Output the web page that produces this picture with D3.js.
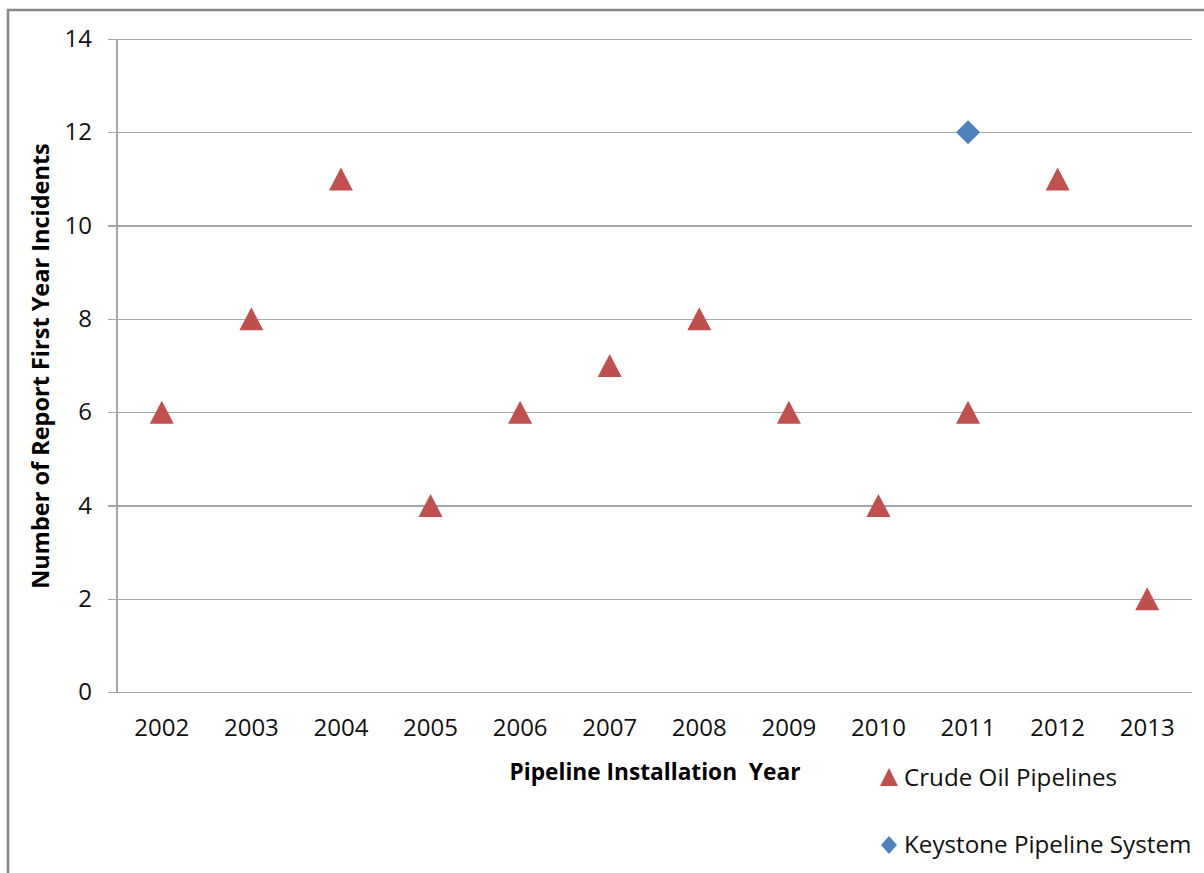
<!DOCTYPE html>
<html>
<head>
<meta charset="utf-8">
<script src="https://cdn.jsdelivr.net/npm/d3@7"></script>
<style>
  html, body { margin: 0; padding: 0; background: #fff; }
  svg { display: block; font-family: "Open Sans", "Noto Sans", sans-serif; }
</style>
</head>
<body>
<svg id="chart" width="1204" height="873"></svg>
<script>
// Installation years (category axis)
const years = ["2002", "2003", "2004", "2005", "2006", "2007", "2008", "2009", "2010", "2011", "2012", "2013"];
// First-year incidents reported for crude oil pipelines, by installation year
const crudeOil = [6, 8, 11, 4, 6, 7, 8, 6, 4, 6, 11, 2];
// Keystone pipeline system
const keystoneYears = ["2011"];
const keystone = [12];
// Value axis ticks
const yTicks = [0, 2, 4, 6, 8, 10, 12, 14];

const svg = d3.select("#chart");
const W = 1204, H = 873;

// Outer chart frame (runs off the right and bottom edges)
svg.append("rect")
  .attr("x", 8).attr("y", 10)
  .attr("width", W + 20).attr("height", H + 20)
  .attr("fill", "#fff")
  .attr("stroke", "#868686").attr("stroke-width", 2.5);

const plot = { left: 117, right: 1192, top: 39, bottom: 692 };

const x = d3.scaleBand().domain(years).range([plot.left, plot.right]);
const y = d3.scaleLinear().domain([0, 14]).range([plot.bottom, plot.top]);

// Horizontal gridlines with short ticks to the left of the axis
const yAxis = d3.axisLeft(y).tickValues(yTicks)
  .tickSize(-(plot.right - plot.left)).tickPadding(25).tickFormat(d3.format("d"));
const gy = svg.append("g").attr("transform", `translate(${plot.left},0)`).call(yAxis);
gy.select(".domain").remove();
gy.selectAll(".tick line")
  .attr("x1", -9)
  .attr("stroke", "#a6a6a6").attr("stroke-width", 1.3)
  .attr("shape-rendering", "crispEdges");
gy.selectAll(".tick text")
  .attr("font-size", 24).attr("fill", "#111")
  .attr("font-family", "'Open Sans', sans-serif");

// Vertical axis line
svg.append("line")
  .attr("x1", plot.left).attr("x2", plot.left)
  .attr("y1", plot.top).attr("y2", plot.bottom)
  .attr("stroke", "#a6a6a6").attr("stroke-width", 1.3)
  .attr("shape-rendering", "crispEdges");

// Category labels
const xAxis = d3.axisBottom(x).tickSize(0).tickPadding(27);
const gx = svg.append("g").attr("transform", `translate(0,${plot.bottom})`).call(xAxis);
gx.select(".domain").remove();
gx.selectAll(".tick text")
  .attr("font-size", 24).attr("fill", "#111")
  .attr("font-family", "'Open Sans', sans-serif");

// Axis titles
svg.append("text")
  .attr("x", 655).attr("y", 780)
  .attr("text-anchor", "middle")
  .attr("font-size", 22.7).attr("font-weight", "bold").attr("fill", "#000")
  .style("white-space", "pre")
  .text("Pipeline Installation  Year");

svg.append("text")
  .attr("transform", "translate(49,366) rotate(-90)")
  .attr("text-anchor", "middle")
  .attr("font-size", 23.5).attr("font-weight", "bold").attr("fill", "#000")
  .text("Number of Report First Year Incidents");

// Marker shapes, bounding box centred on the data point
const TRI_W = 24, TRI_H = 23, DIA = 24;
function triangle(cx, cy) {
  const p = d3.path();
  p.moveTo(cx, cy - TRI_H / 2);
  p.lineTo(cx + TRI_W / 2, cy + TRI_H / 2);
  p.lineTo(cx - TRI_W / 2, cy + TRI_H / 2);
  p.closePath();
  return p.toString();
}
function diamond(cx, cy) {
  const p = d3.path();
  p.moveTo(cx, cy - DIA / 2);
  p.lineTo(cx + DIA / 2, cy);
  p.lineTo(cx, cy + DIA / 2);
  p.lineTo(cx - DIA / 2, cy);
  p.closePath();
  return p.toString();
}

const red = "#c0504d", blue = "#4f81bd";

svg.append("g").selectAll("path")
  .data(years.map((yr, i) => ({ yr, v: crudeOil[i] })))
  .join("path")
  .attr("d", d => triangle(x(d.yr) + x.bandwidth() / 2, y(d.v)))
  .attr("fill", red);

svg.append("g").selectAll("path")
  .data(keystoneYears.map((yr, i) => ({ yr, v: keystone[i] })))
  .join("path")
  .attr("d", d => diamond(x(d.yr) + x.bandwidth() / 2, y(d.v)))
  .attr("fill", blue);

// Legend
const legend = svg.append("g");
legend.append("path").attr("d", () => {
  const p = d3.path();
  p.moveTo(889, 768); p.lineTo(898, 786); p.lineTo(880, 786); p.closePath();
  return p.toString();
}).attr("fill", red);
legend.append("text").attr("x", 904).attr("y", 786)
  .attr("font-size", 24.2).attr("fill", "#111").text("Crude Oil Pipelines");

legend.append("path").attr("d", () => {
  const p = d3.path();
  p.moveTo(889, 836); p.lineTo(897, 845); p.lineTo(889, 854); p.lineTo(881, 845); p.closePath();
  return p.toString();
}).attr("fill", blue);
legend.append("text").attr("x", 904).attr("y", 853)
  .attr("font-size", 24.2).attr("fill", "#111").text("Keystone Pipeline System");
</script>
</body>
</html>
